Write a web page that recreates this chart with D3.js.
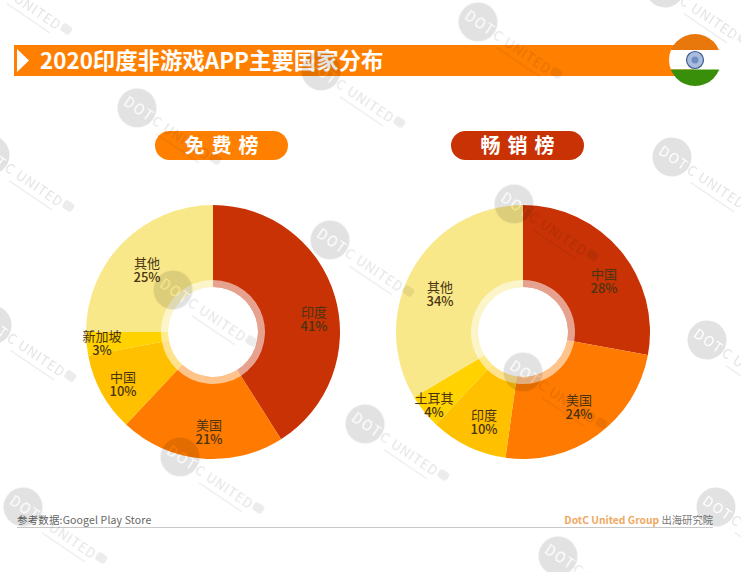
<!DOCTYPE html>
<html lang="en">
<head>
<meta charset="utf-8">
<title>2020印度非游戏APP主要国家分布</title>
<script src="https://d3js.org/d3.v7.min.js"></script>
<style>
  html, body { margin: 0; padding: 0; background: #fff; overflow: hidden; }
  text { font-family: "Noto Sans CJK SC", "Noto Sans", sans-serif; }
</style>
</head>
<body>
<div id="chart"></div>
<script>
  var width = 741, height = 572;

  var charts = [
    { title: "免费榜", titleColor: "#ff7f00", cx: 213, pill: 222, data: [
      { name: "印度", value: 41, color: "#c83205", lx: 314, ly: 317 },
      { name: "美国", value: 21, color: "#ff7a00", lx: 209, ly: 430 },
      { name: "中国", value: 10, color: "#ffc000", lx: 123, ly: 382 },
      { name: "新加坡", value: 3, color: "#ffd200", lx: 102, ly: 341 },
      { name: "其他", value: 25, color: "#f9e88a", lx: 147, ly: 268 }
    ]},
    { title: "畅销榜", titleColor: "#c83205", cx: 523, pill: 518, data: [
      { name: "中国", value: 27.9, color: "#c83205", lx: 604, ly: 279 },
      { name: "美国", value: 24.3, color: "#ff7a00", lx: 579, ly: 405 },
      { name: "印度", value: 9.8, color: "#ffc000", lx: 484, ly: 420 },
      { name: "土耳其", value: 4.4, color: "#ffd200", lx: 434, ly: 403 },
      { name: "其他", value: 33.6, color: "#f9e88a", lx: 440, ly: 292 }
    ]}
  ];

  // Centres of the watermark stamps.
  var stamps = [
    [137,108],[330,240],[523,372],[716,507],
    [321,71],[514,204],[707,340],
    [478,22],[672,157],[665,-12],
    [173,290],[365,424],[558,556],
    [-10,155],[-8,325],[180,457],[23,507],[-12,-22]
  ];

  var cy = 332, outer = 127, hole = 45, ring = 52;

  var svg = d3.select("#chart").append("svg")
    .attr("width", width).attr("height", height)
    .style("display", "block");

  // Header bar
  svg.append("rect").attr("x", 14).attr("y", 45).attr("width", 680).attr("height", 31).attr("fill", "#ff7f00");
  svg.append("path").attr("d", "M17,49L29,60.5L17,72Z").attr("fill", "#fff");
  svg.append("text").attr("x", 40).attr("y", 69).attr("fill", "#fff")
    .attr("font-size", 22.4).attr("font-weight", 700).text("2020印度非游戏APP主要国家分布");

  // Flag
  var flag = svg.append("g").attr("transform", "translate(695,60)");
  svg.append("clipPath").attr("id", "flagClip").append("circle").attr("r", 26);
  var fg = flag.append("g").attr("clip-path", "url(#flagClip)");
  fg.append("rect").attr("x", -26).attr("y", -26).attr("width", 52).attr("height", 16).attr("fill", "#e8780c");
  fg.append("rect").attr("x", -26).attr("y", -10).attr("width", 52).attr("height", 19.5).attr("fill", "#fff");
  fg.append("rect").attr("x", -26).attr("y", 9.5).attr("width", 52).attr("height", 17).attr("fill", "#3a8f0a");
  flag.append("circle").attr("r", 8.5).attr("fill", "#a9bcdc").attr("stroke", "#3e5a8e").attr("stroke-width", 1.2);
  flag.append("circle").attr("r", 3.5).attr("fill", "#6f8fc4");

  var pie = d3.pie().sort(null).value(function(d) { return d.value; });
  var arc = d3.arc().innerRadius(hole).outerRadius(outer);
  var ringArc = d3.arc().innerRadius(hole).outerRadius(ring);

  charts.forEach(function(c) {
    // Pill heading
    svg.append("rect").attr("x", c.pill - 67).attr("y", 131).attr("width", 133).attr("height", 29)
      .attr("rx", 14.5).attr("fill", c.titleColor);
    svg.append("text").attr("x", c.pill + 3).attr("y", 153).attr("text-anchor", "middle")
      .attr("fill", "#fff").attr("font-size", 20).attr("font-weight", 700)
      .attr("letter-spacing", 7).text(c.title);

    var g = svg.append("g").attr("transform", "translate(" + c.cx + "," + cy + ")");
    var arcs = pie(c.data);
    g.selectAll("path.slice").data(arcs).enter().append("path")
      .attr("class", "slice").attr("d", arc).attr("fill", function(d) { return d.data.color; });
    g.selectAll("path.ring").data(arcs).enter().append("path")
      .attr("class", "ring").attr("d", ringArc).attr("fill", "#fff").attr("fill-opacity", 0.55);

    // Labels
    var lab = svg.append("g").selectAll("text").data(c.data).enter().append("text")
      .attr("text-anchor", "middle").attr("fill", "#4a3410").attr("font-size", 13);
    lab.append("tspan").attr("x", function(d) { return d.lx; }).attr("y", function(d) { return d.ly; })
      .text(function(d) { return d.name; });
    lab.append("tspan").attr("x", function(d) { return d.lx; }).attr("y", function(d) { return d.ly + 14; })
      .attr("font-weight", 500).text(function(d) { return Math.round(d.value) + "%"; });
  });

  // Footer
  svg.append("line").attr("x1", 17).attr("x2", 713).attr("y1", 527.5).attr("y2", 527.5)
    .attr("stroke", "#c8c8c8").attr("stroke-width", 1);
  svg.append("text").attr("x", 17).attr("y", 524).attr("fill", "#666").attr("font-size", 10.5)
    .attr("letter-spacing", 0.15).text("参考数据:Googel Play Store");
  var foot = svg.append("text").attr("x", 713).attr("y", 524).attr("text-anchor", "end").attr("font-size", 10.3);
  foot.append("tspan").attr("fill", "#f0a860").attr("font-weight", 700).text("DotC United Group ");
  foot.append("tspan").attr("fill", "#777").text("出海研究院");

  // Watermark stamps sit over everything
  var mark = svg.append("g").style("mix-blend-mode", "multiply").selectAll("g").data(stamps).enter().append("g")
    .attr("transform", function(d) { return "translate(" + d[0] + "," + d[1] + ") rotate(34)"; });
  mark.append("circle").attr("r", 19.5).attr("fill", "#e2e2e2");
  mark.append("text").attr("x", -14).attr("y", 5).attr("font-size", 14).attr("letter-spacing", 1.5)
    .attr("fill", "#fff").text("DOT");
  mark.append("text").attr("x", 20).attr("y", 5).attr("font-size", 13.5).attr("letter-spacing", 0.8)
    .attr("fill", "#e4e4e4").text("C UNITED");
  mark.append("rect").attr("x", 30).attr("y", 10).attr("width", 52).attr("height", 1.5)
    .attr("fill", "#efefef");
  mark.append("rect").attr("x", 88).attr("y", -6).attr("width", 11).attr("height", 9).attr("rx", 3)
    .attr("fill", "#ececec");
</script>
</body>
</html>
